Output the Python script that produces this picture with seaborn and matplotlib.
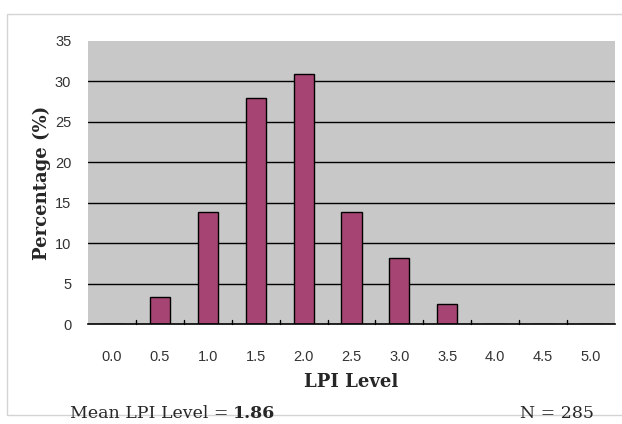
import matplotlib
matplotlib.use("Agg")
import matplotlib.pyplot as plt
import seaborn as sns
import pandas as pd
from matplotlib.patches import Rectangle

levels = ["0.0", "0.5", "1.0", "1.5", "2.0", "2.5", "3.0", "3.5", "4.0", "4.5", "5.0"]
percentages = [0, 3.3, 13.8, 28.0, 30.9, 13.8, 8.2, 2.5, 0, 0, 0]
y_ticks = [0, 5, 10, 15, 20, 25, 30, 35]
mean_level = "1.86"
n_total = "285"

df = pd.DataFrame({"level": levels, "pct": percentages})

sns.set_theme(style="white")
plt.rcParams["font.family"] = ["DejaVu Sans"]

fig = plt.figure(figsize=(6.22, 4.24), dpi=100)
fig.patch.set_facecolor("white")
# outer light frame
fig.patches.append(Rectangle((7/622, 1 - 415/424), 1.1, (415 - 14)/424,
                             transform=fig.transFigure, fill=False,
                             edgecolor="#d4d4d4", linewidth=1.0, zorder=0))

ax = fig.add_axes([88/622, 1 - 324/424, 527/622, (324 - 41)/424])
ax.set_facecolor("#c8c8c8")

sns.barplot(data=df, x="level", y="pct", order=levels, color="#a64573",
            width=0.42, edgecolor="black", linewidth=1.0, saturation=1,
            ax=ax, zorder=3)

ax.set_ylim(0, 35)
ax.set_xlim(-0.5, len(levels) - 0.5)
ax.set_yticks(y_ticks)
ax.set_yticklabels([str(t) for t in y_ticks], fontsize=10.5, color="#333333",
                   family="Liberation Sans")
ax.tick_params(axis="y", length=0, pad=12)

for t in y_ticks[1:-1]:
    ax.axhline(t, color="black", linewidth=1.0, zorder=1)

# x ticks between categories pointing inward
ax.set_xticks(range(len(levels)))
ax.set_xticklabels(levels, fontsize=10.5, color="#333333", family="Liberation Sans")
ax.tick_params(axis="x", length=0, pad=19)
for b in range(len(levels) - 1):
    ax.plot([b + 0.5, b + 0.5], [0, 0.55], color="black", linewidth=1.0,
            zorder=4, clip_on=False)

for s in ["top", "right", "left"]:
    ax.spines[s].set_visible(False)
ax.spines["bottom"].set_color("black")
ax.spines["bottom"].set_linewidth(1.2)
ax.spines["bottom"].set_zorder(5)

ax.set_xlabel("LPI Level", fontsize=13, fontweight="bold",
              family="DejaVu Serif", labelpad=6)
ax.set_ylabel("Percentage (%)", fontsize=13, fontweight="bold",
              family="DejaVu Serif", labelpad=3)

fig.text(70/622, 1 - 413/424, "Mean LPI Level = ", fontsize=12.5,
         family="DejaVu Serif", va="center", ha="left")
fig.text(233/622, 1 - 413/424, mean_level, fontsize=12.5, fontweight="bold",
         family="DejaVu Serif", va="center", ha="left")
fig.text(594/622, 1 - 413/424, f"N = {n_total}", fontsize=12.5,
         family="DejaVu Serif", va="center", ha="right")

fig.savefig("out.png", dpi=100)
